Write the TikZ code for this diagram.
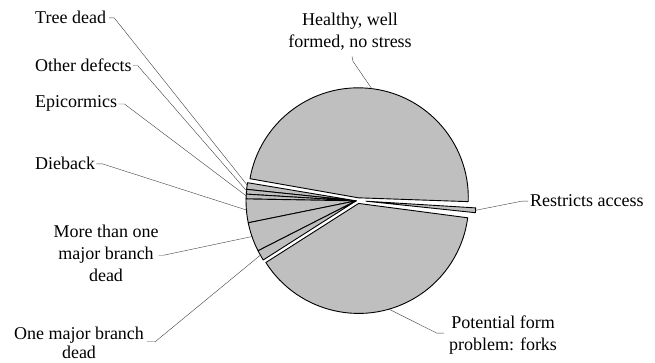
\documentclass[tikz,border=0pt]{standalone}
\usepackage{fontspec}
\setmainfont{Liberation Serif}
\usetikzlibrary{calc}
\newcommand\pieslice[3]{\draw[wedge] (#1) -- ($(#1)+(#2:110)$) arc[start angle=#2, end angle=#3, radius=110] -- cycle;}
\begin{document}
\begin{tikzpicture}[x=1pt,y=1pt,
  wedge/.style={fill=black!25, draw=black, line width=0.9pt, line join=round},
  lbl/.style={font=\fontsize{18}{22}\selectfont, inner sep=0pt, text=black},
  leader/.style={draw=black!75, line width=0.4pt}]
\useasboundingbox (0,0) rectangle (655,363);
% pie geometry
\coordinate (C) at (358,162.5);
\coordinate (aH) at ($(C)+(83.5:2.7)$);
\coordinate (aS) at ($(C)+(190:2)$);
\coordinate (aP) at ($(C)+(-78:3)$);
\coordinate (aR) at ($(C)+(-5:8)$);
% slices
\pieslice{aH}{-2}{170}
\pieslice{aS}{170.5}{174}
\pieslice{aS}{174}{176.5}
\pieslice{aS}{176.5}{179}
\pieslice{aS}{179}{191.5}
\pieslice{aS}{191.5}{207}
\pieslice{aS}{207}{212.5}
\pieslice{aP}{212.5}{352.5}
\pieslice{aR}{354}{356.5}
% leader end points
\coordinate (endTree) at ($(aS)+(172.25:109)$);
\coordinate (endOther) at ($(aS)+(175.25:109)$);
\coordinate (endEpi) at ($(aS)+(177.75:109)$);
\coordinate (endDie) at ($(aS)+(185:109)$);
\coordinate (endMore) at ($(aS)+(199:109)$);
\coordinate (endOne) at ($(aS)+(209.5:109)$);
\coordinate (endPot) at ($(aP)+(-74:110)$);
\coordinate (endRes) at ($(aR)+(-4.75:110)$);
\coordinate (endHea) at ($(aH)+(83:110)$);
% labels
\node[lbl, anchor=base west] (tree) at (35,339) {Tree dead};
\node[lbl, anchor=base west] (other) at (35,291) {Other defects};
\node[lbl, anchor=base west] (epi) at (35,255) {Epicormics};
\node[lbl, anchor=base west] (die) at (35,193) {Dieback};
\node[lbl, anchor=north, align=center] (more) at (106,138.3) {More than one\\major branch\\dead};
\node[lbl, font=\fontsize{18}{19}\selectfont, anchor=north, align=center] (one) at (79,36.3) {One major branch\\dead};
\node[lbl, anchor=north, align=center] (hea) at (350,350.3) {Healthy, well\\formed, no stress};
\node[lbl, anchor=base west] (res) at (530,156) {Restricts access};
\node[lbl, anchor=north, align=center] (pot) at (503,47.3) {Potential form\\problem: forks};
% leaders
\draw[leader] ($(tree.east)+(3,0)$) -- ++(5,0) -- (endTree);
\draw[leader] ($(other.east)+(1,0)$) -- ++(5,0) -- (endOther);
\draw[leader] ($(epi.east)+(1,0)$) -- ++(6,0) -- (endEpi);
\draw[leader] ($(die.east)+(1,0)$) -- ++(6,0) -- (endDie);
\draw[leader] ($(more.east)+(0,-2)$) -- ++(5,0) -- (endMore);
\draw[leader] ($(one.east)+(3,1)$) -- ++(8,0) -- (endOne);
\draw[leader] ($(pot.west)+(-5,2)$) -- ++(-7,0) -- (endPot);
\draw[leader] ($(res.west)+(-2,0)$) -- ++(-6,0) -- (endRes);
\draw[leader] ($(hea.south)+(2,-6)$) -- ++(1,-5) -- (endHea);
\end{tikzpicture}
\end{document}
